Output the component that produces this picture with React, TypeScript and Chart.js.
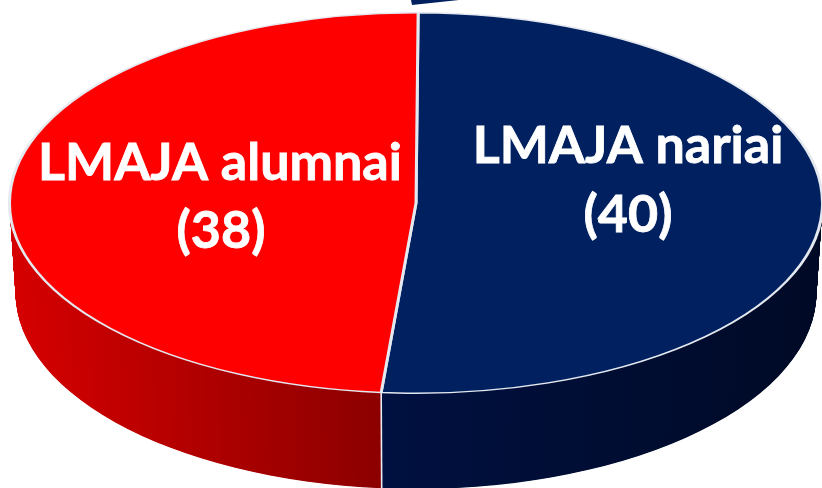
import React, { useEffect, useRef } from "react";
import { Chart, registerables } from "chart.js";

Chart.register(...registerables);

const categories = ["LMAJA nariai", "LMAJA alumnai"];
const values = [40, 38];
const sliceColors = ["#002060", "#FF0000"];
const wallStops = [
  ["#001040", "#000A26"],
  ["#D60000", "#8C0000"],
];

const TOP_CY = 203;
const SQUASH = 0.468;
const DEPTH = 90;
const BOTTOM_SX = 0.985;
const BOTTOM_SY = 1.03;

function place(ctx: CanvasRenderingContext2D, arc: any, t: number) {
  ctx.translate(arc.x, TOP_CY + DEPTH * t);
  ctx.scale(1 + (BOTTOM_SX - 1) * t, SQUASH * (1 + (BOTTOM_SY - 1) * t));
  ctx.translate(-arc.x, -arc.y);
}

const pie3d = {
  id: "pie3d",
  beforeDatasetsDraw(chart: any) {
    const ctx: CanvasRenderingContext2D = chart.ctx;
    const arcs = chart.getDatasetMeta(0).data;
    const first = arcs[0];
    const left = first.x - first.outerRadius;
    const right = first.x + first.outerRadius;
    const split = first.x + Math.cos(first.endAngle) * first.outerRadius;

    const grads = [
      [split, right],
      [left, split],
    ].map(([a, b], i) => {
      const g = ctx.createLinearGradient(a, 0, b, 0);
      const stops = wallStops[i];
      g.addColorStop(0, stops[0]);
      g.addColorStop(1, stops[1]);
      return g;
    });

    for (let step = DEPTH * 2; step > 0; step--) {
      const t = step / (DEPTH * 2);
      arcs.forEach((arc: any, i: number) => {
        const saved = arc.options;
        arc.options = {
          backgroundColor: grads[i],
          borderColor: "transparent",
          borderWidth: 0,
          borderAlign: "center",
          borderDash: [],
          borderDashOffset: 0,
          borderJoinStyle: "round",
          borderRadius: 0,
          offset: 0,
          spacing: 0,
          circular: true,
          selfJoin: false,
        };
        ctx.save();
        place(ctx, arc, t);
        arc.draw(ctx);
        ctx.restore();
        arc.options = saved;
      });
    }

    // seam on the front wall
    const px = first.x + Math.cos(first.endAngle) * first.outerRadius;
    const py = first.y + Math.sin(first.endAngle) * first.outerRadius;
    ctx.save();
    place(ctx, first, 0);
    const top = ctx.getTransform().transformPoint(new DOMPoint(px, py));
    ctx.restore();
    ctx.save();
    place(ctx, first, 1);
    const bottom = ctx.getTransform().transformPoint(new DOMPoint(px, py));
    ctx.restore();
    ctx.save();
    ctx.strokeStyle = "#E8ECF2";
    ctx.lineWidth = 1.6;
    ctx.beginPath();
    ctx.moveTo(top.x, top.y);
    ctx.lineTo(bottom.x, bottom.y);
    ctx.stroke();
    ctx.restore();

    ctx.save();
    place(ctx, first, 0);
  },
  afterDatasetsDraw(chart: any) {
    const ctx: CanvasRenderingContext2D = chart.ctx;
    ctx.restore();

    // fragment cropped by the top edge of the picture
    ctx.save();
    ctx.fillStyle = sliceColors[0];
    ctx.beginPath();
    ctx.moveTo(411, 0);
    ctx.lineTo(459, 0);
    ctx.lineTo(412, 5);
    ctx.closePath();
    ctx.fill();

    ctx.fillStyle = "#FFFFFF";
    ctx.strokeStyle = "#FFFFFF";
    ctx.lineWidth = 0.8;
    ctx.textAlign = "center";
    ctx.textBaseline = "alphabetic";
    ctx.font = '700 52px Lato, "Open Sans", sans-serif';
    const put = (s: string, x: number, y: number) => {
      ctx.fillText(s, x, y);
      ctx.strokeText(s, x, y);
    };
    put(categories[0], 628, 163);
    put(`(${values[0]})`, 628, 232);
    put(categories[1], 220, 180);
    put(`(${values[1]})`, 221, 248);
    ctx.restore();
  },
};

export default function App() {
  const ref = useRef<HTMLCanvasElement>(null);
  useEffect(() => {
    const chart = new Chart(ref.current as HTMLCanvasElement, {
      type: "pie",
      data: {
        labels: categories,
        datasets: [
          {
            data: values,
            backgroundColor: sliceColors,
            borderColor: "#E4E8EF",
            borderWidth: 3,
          },
        ],
      },
      options: {
        responsive: false,
        animation: false,
        rotation: 0.3,
        layout: { padding: { left: 8 } },
        plugins: { legend: { display: false }, tooltip: { enabled: false } },
      },
      plugins: [pie3d],
    } as any);
    return () => chart.destroy();
  }, []);
  return (
    <div
      style={{
        position: "fixed",
        left: 0,
        top: 0,
        width: 822,
        height: 488,
        overflow: "hidden",
        background: "#fff",
      }}
    >
      <canvas ref={ref} width={824} height={816} style={{ display: "block" }} />
    </div>
  );
}
